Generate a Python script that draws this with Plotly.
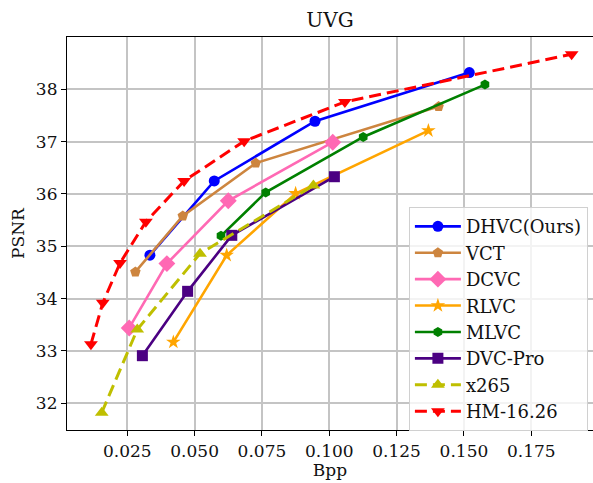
import plotly.graph_objects as go

# ---- data ----
dhvc_x = [0.0334, 0.0573, 0.0947, 0.1520]
dhvc_y = [34.83, 36.25, 37.39, 38.32]

vct_x = [0.0280, 0.0456, 0.0727, 0.1406]
vct_y = [34.51, 35.58, 36.59, 37.67]

dcvc_x = [0.0257, 0.0397, 0.0625, 0.1013]
dcvc_y = [33.44, 34.67, 35.87, 36.99]

rlvc_x = [0.0421, 0.0619, 0.0875, 0.1368]
rlvc_y = [33.17, 34.83, 36.01, 37.21]

mlvc_x = [0.0598, 0.0764, 0.1126, 0.1578]
mlvc_y = [35.20, 36.03, 37.09, 38.09]

dvcpro_x = [0.0306, 0.0474, 0.0638, 0.1019]
dvcpro_y = [32.91, 34.14, 35.21, 36.33]

x265_x = [0.0155, 0.0287, 0.0520, 0.0941]
x265_y = [31.82, 33.41, 34.86, 36.16]

hm_x = [0.0115, 0.0159, 0.0223, 0.0319, 0.0461, 0.0684, 0.1058, 0.1900]
hm_y = [33.13, 33.92, 34.68, 35.47, 36.25, 37.01, 37.76, 38.67]

x_ticks = [0.025, 0.050, 0.075, 0.100, 0.125, 0.150, 0.175]
y_ticks = [32, 33, 34, 35, 36, 37, 38]

FONT = "DejaVu Serif"

series = [
    ("DHVC(Ours)", dhvc_x, dhvc_y, "#0000ff", "circle", 11, "solid"),
    ("VCT", vct_x, vct_y, "#cd853f", "pentagon", 11, "solid"),
    ("DCVC", dcvc_x, dcvc_y, "#ff69b4", "diamond", 13, "solid"),
    ("RLVC", rlvc_x, rlvc_y, "#ffa500", "star", 11, "solid"),
    ("MLVC", mlvc_x, mlvc_y, "#008000", "hexagon", 10, "solid"),
    ("DVC-Pro", dvcpro_x, dvcpro_y, "#4b0082", "square", 11, "solid"),
    ("x265", x265_x, x265_y, "#bfbf00", "triangle-up", 12, "12px,6px"),
    ("HM-16.26", hm_x, hm_y, "#ff0000", "triangle-down", 12, "12px,6px"),
]

fig = go.Figure()
for name, xs, ys, color, sym, msize, dash in series:
    fig.add_trace(go.Scatter(
        x=xs, y=ys, name=name, mode="lines+markers",
        legendgroup=name,
        line=dict(color=color, width=2.6 if dash == "solid" else 3, dash=dash),
        marker=dict(color=color, symbol=sym, size=msize, line=dict(width=0)),
    ))

fig.update_layout(
    width=593, height=483,
    margin=dict(l=67, r=0, t=37, b=53),
    paper_bgcolor="white", plot_bgcolor="white",
    font=dict(family=FONT, size=17, color="#111111"),
    title=dict(text="UVG", x=0.5, xref="paper", xanchor="center",
               y=1 - 20 / 483, yref="container", yanchor="middle",
               font=dict(family=FONT, size=20, color="#111111")),
    legend=dict(x=0.65, y=0.567, xanchor="left", yanchor="top",
                bgcolor="rgba(255,255,255,0.8)", bordercolor="#d0d0d0",
                borderwidth=1, tracegroupgap=0, itemwidth=46,
                font=dict(family=FONT, size=18, color="#111111")),
    showlegend=True,
)

fig.update_xaxes(
    range=[0.00261, 0.19793], tickvals=x_ticks,
    ticktext=[f"{v:.3f}" for v in x_ticks],
    showgrid=True, gridcolor="#c4c4c4", gridwidth=1.5,
    showline=True, linecolor="black", linewidth=1.2, mirror=True,
    ticks="outside", ticklen=5, tickcolor="black", tickwidth=1.2,
    zeroline=False,
    title=dict(text="Bpp", standoff=4, font=dict(family=FONT, size=17)),
)
fig.update_yaxes(
    range=[31.49, 39.0], tickvals=y_ticks,
    showgrid=True, gridcolor="#c4c4c4", gridwidth=1.5,
    showline=True, linecolor="black", linewidth=1.2, mirror=False,
    ticks="outside", ticklen=5, tickcolor="black", tickwidth=1.2,
    zeroline=False,
    title=dict(text="PSNR", standoff=6, font=dict(family=FONT, size=17)),
)

fig.write_html("out.html")
